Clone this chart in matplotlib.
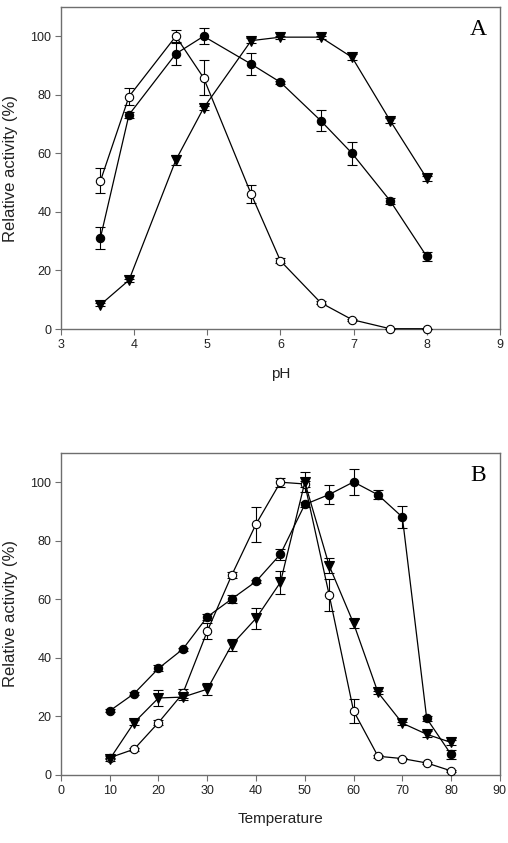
import numpy as np
import matplotlib
matplotlib.use("Agg")
import matplotlib.pyplot as plt

plt.rcParams['font.family'] = ['Liberation Sans', 'DejaVu Sans']

# panel A: pH
ph = [3.54, 3.93, 4.57, 4.95, 5.6, 6.0, 6.55, 6.98, 7.5, 8.0]
ph_open = [50.6, 79.4, 100.0, 85.8, 46.1, 23.3, 9.0, 3.2, 0.1, 0.1]
ph_open_err = [4.3, 3.0, 2.0, 6.0, 3.0, 0.8, 0.5, 0.3, 0.0, 0.0]
ph_fill = [31.2, 73.2, 94.0, 100.0, 90.5, 84.3, 71.2, 60.0, 43.8, 24.8]
ph_fill_err = [3.7, 1.0, 3.8, 2.7, 3.8, 0.5, 3.5, 4.0, 1.0, 1.5]
ph_tri = [8.3, 16.7, 57.7, 75.5, 98.5, 99.7, 99.7, 92.8, 71.2, 51.5]
ph_tri_err = [0.5, 0.5, 1.8, 0.8, 0.8, 0.5, 0.5, 1.0, 0.8, 0.8]

# panel B: temperature
temp = [10, 15, 20, 25, 30, 35, 40, 45, 50, 55, 60, 65, 70, 75, 80]
t_open = [5.9, 8.8, 17.9, 27.9, 49.1, 68.2, 85.7, 100.0, 99.4, 61.5, 21.9, 6.4, 5.6, 4.1, 1.4]
t_open_err = [0.5, 0.5, 0.8, 1.5, 2.7, 1.0, 6.0, 1.5, 1.0, 5.5, 4.0, 0.5, 0.3, 0.3, 0.3]
t_fill = [21.9, 27.8, 36.4, 43.0, 54.0, 60.1, 66.1, 75.4, 92.4, 95.8, 100.1, 95.7, 88.1, 19.3, 7.0]
t_fill_err = [0.5, 0.5, 1.0, 0.5, 1.0, 1.5, 0.5, 1.8, 1.0, 3.3, 4.5, 1.5, 3.8, 1.0, 1.5]
t_tri = [5.4, 17.9, 26.3, 26.6, 29.3, 44.4, 53.5, 65.8, 100.0, 71.5, 51.8, 28.2, 17.7, 13.9, 11.1]
t_tri_err = [0.5, 1.0, 2.8, 1.0, 2.0, 2.0, 3.7, 4.0, 3.5, 2.5, 1.5, 0.5, 0.5, 1.0, 1.0]

fig = plt.figure(figsize=(5.08, 8.43), dpi=100)
axA = fig.add_axes([0.120, 0.6097, 0.864, 0.382])
axB = fig.add_axes([0.120, 0.0807, 0.864, 0.382])


def draw(ax, x, ys, errs):
    styles = [dict(marker='o', mfc='white', ms=6), dict(marker='o', mfc='black', ms=6),
              dict(marker='v', mfc='black', ms=6.8)]
    for y, e, st in zip(ys, errs, styles):
        ax.errorbar(x, y, yerr=e, color='black', lw=0.9, elinewidth=0.8,
                    capsize=3.5, capthick=0.8, mec='black', mew=0.8,
                    clip_on=False, zorder=3, **st)
    for s in ax.spines.values():
        s.set_color('#6e6e6e')
        s.set_linewidth(1.0)
    ax.tick_params(direction='out', length=4, width=0.8, color='#6e6e6e',
                   labelsize=9, pad=3, labelcolor='#222222')
    ax.set_ylim(0, 110)
    ax.set_yticks([0, 20, 40, 60, 80, 100])
    ax.set_ylabel('Relative activity (%)', fontsize=12, va='center', color='#222222')
    ax.yaxis.set_label_coords(-0.114, 0.5)


draw(axA, ph, [ph_open, ph_fill, ph_tri], [ph_open_err, ph_fill_err, ph_tri_err])
axA.set_xlim(3, 9)
axA.set_xlabel('pH', fontsize=11, va='center', color='#222222')
axA.xaxis.set_label_coords(0.5, -0.140)
axA.text(0.95, 0.93, 'A', transform=axA.transAxes, fontsize=17,
         family='Liberation Serif', ha='center', va='center')

draw(axB, temp, [t_open, t_fill, t_tri], [t_open_err, t_fill_err, t_tri_err])
axB.set_xlim(0, 90)
axB.set_xticks(range(0, 91, 10))
axB.set_xlabel('Temperature', fontsize=11, va='center', color='#222222')
axB.xaxis.set_label_coords(0.5, -0.137)
axB.text(0.95, 0.93, 'B', transform=axB.transAxes, fontsize=17,
         family='Liberation Serif', ha='center', va='center')

fig.savefig('out.png', dpi=100)
